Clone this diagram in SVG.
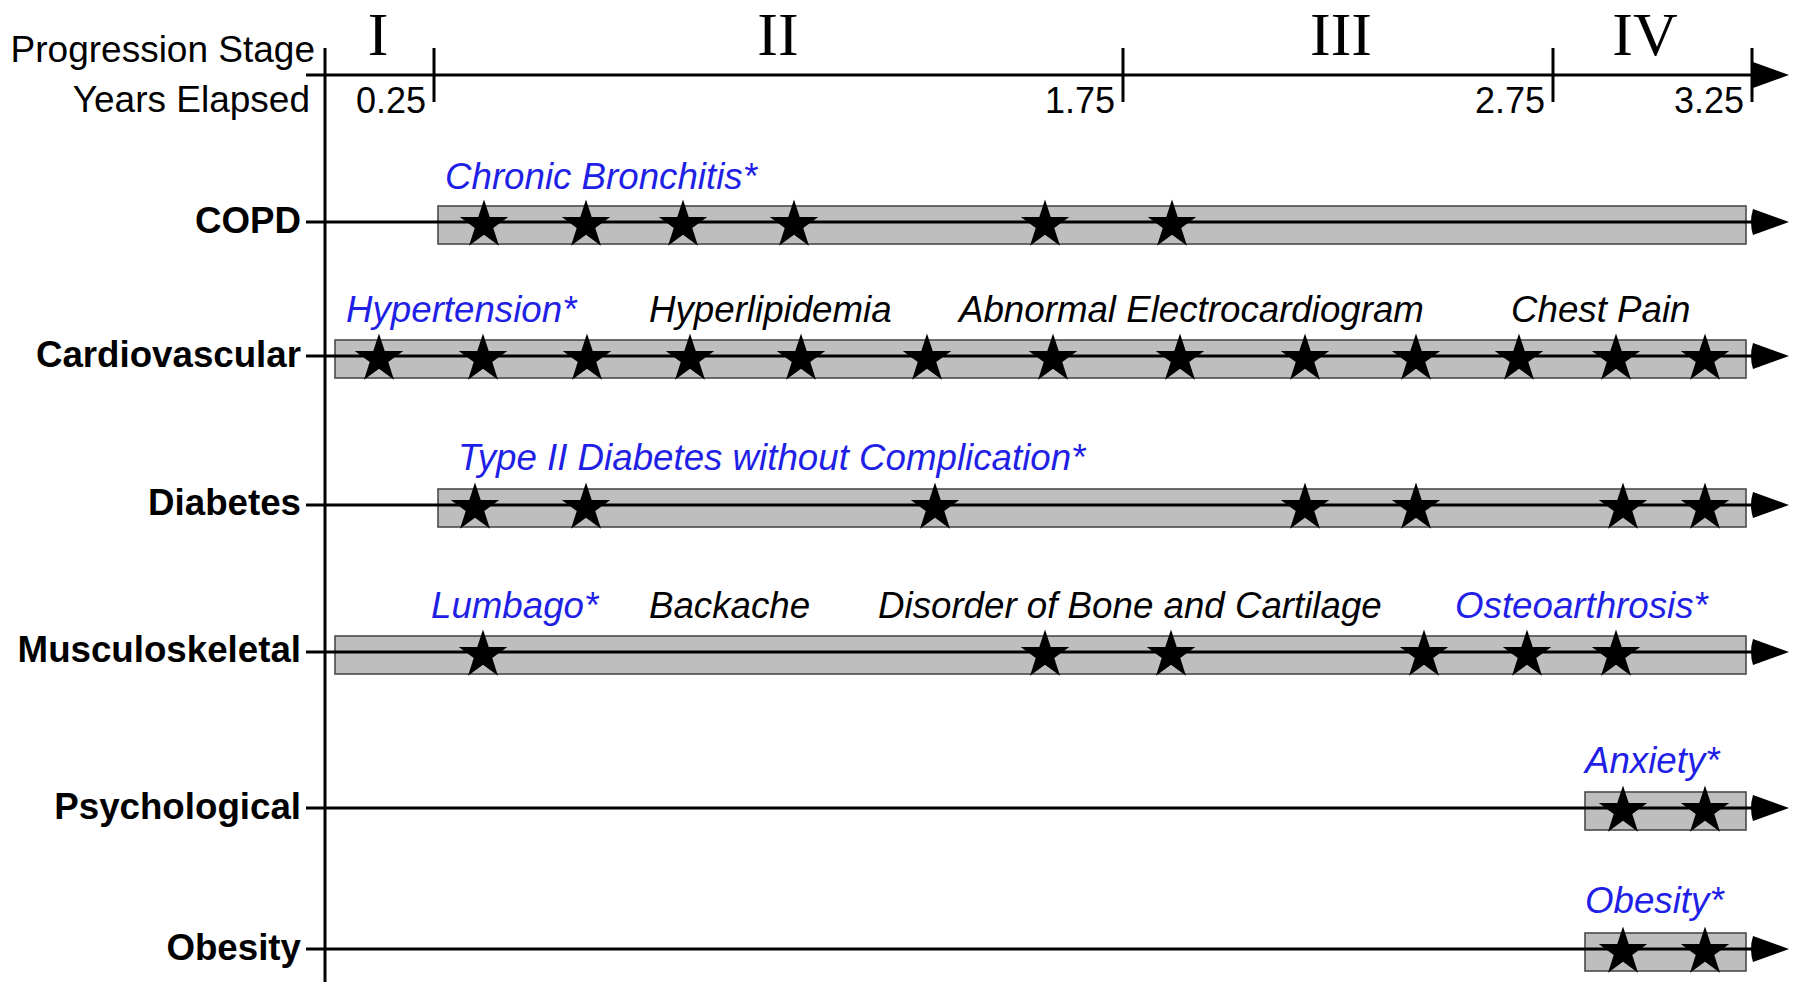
<svg xmlns="http://www.w3.org/2000/svg" xmlns:xlink="http://www.w3.org/1999/xlink" width="1795" height="982" viewBox="0 0 1795 982">
<style>
.sans{font-family:"Liberation Sans",Arial,sans-serif;font-size:37px;fill:#000}
.lab{font-family:"Liberation Sans",Arial,sans-serif;font-size:36.7px;font-weight:bold;fill:#000;text-anchor:end}
.ev{font-family:"Liberation Sans",Arial,sans-serif;font-size:36.7px;font-style:italic;fill:#000}
.blue{fill:#1f1fe6}
.roman{font-family:"Liberation Serif","Times New Roman",serif;font-size:62px;fill:#000;text-anchor:middle}
.yr{font-family:"Liberation Sans",Arial,sans-serif;font-size:36px;fill:#000;text-anchor:end}
.bar{fill:#bebebe;stroke:#4a4a4a;stroke-width:1.6}
.ln{stroke:#000;stroke-width:3;fill:none}
.tick{stroke:#000;stroke-width:3}
</style>
<defs>
<marker id="arrow" viewBox="-5 -13 41 26" refX="0" refY="0" markerWidth="41" markerHeight="26" markerUnits="userSpaceOnUse" orient="auto">
<path d="M0,-13 L36,0 L0,13 Q-4,0 0,-13Z" fill="#000"/>
</marker>
<path id="star" d="M0,-25.5L5.72,-7.88L24.25,-7.88L9.26,3.01L14.99,20.63L0,9.74L-14.99,20.63L-9.26,3.01L-24.25,-7.88L-5.72,-7.88Z" fill="#000"/>
</defs>
<rect width="1795" height="982" fill="#fff"/>

<g id="axis">
<text class="sans" x="315" y="62" text-anchor="end">Progression Stage</text>
<text class="sans" x="310" y="112" text-anchor="end">Years Elapsed</text>
<line class="ln" x1="306" y1="75" x2="1753" y2="75" marker-end="url(#arrow)"/>
<line class="ln" x1="325" y1="48" x2="325" y2="982"/>
<line class="tick" x1="434" y1="48" x2="434" y2="102"/>
<line class="tick" x1="1123" y1="48" x2="1123" y2="102"/>
<line class="tick" x1="1553" y1="48" x2="1553" y2="102"/>
<line class="tick" x1="1752" y1="48" x2="1752" y2="102"/>
<text class="roman" x="378" y="55">I</text>
<text class="roman" x="778" y="55">II</text>
<text class="roman" x="1341" y="55">III</text>
<text class="roman" x="1645" y="55">IV</text>
<text class="yr" x="426" y="113">0.25</text>
<text class="yr" x="1115" y="113">1.75</text>
<text class="yr" x="1545" y="113">2.75</text>
<text class="yr" x="1744" y="113">3.25</text>
</g>

<g id="bars">
<rect class="bar" x="438" y="206" width="1308" height="38"/>
<rect class="bar" x="335" y="340" width="1411" height="38"/>
<rect class="bar" x="438" y="489" width="1308" height="38"/>
<rect class="bar" x="335" y="636" width="1411" height="38"/>
<rect class="bar" x="1585" y="792" width="161" height="38"/>
<rect class="bar" x="1585" y="933" width="161" height="38"/>
</g>

<g id="connectors">
<line class="ln" x1="306" y1="222" x2="1753" y2="222" marker-end="url(#arrow)"/>
<line class="ln" x1="306" y1="356" x2="1753" y2="356" marker-end="url(#arrow)"/>
<line class="ln" x1="306" y1="505" x2="1753" y2="505" marker-end="url(#arrow)"/>
<line class="ln" x1="306" y1="652" x2="1753" y2="652" marker-end="url(#arrow)"/>
<line class="ln" x1="306" y1="808" x2="1753" y2="808" marker-end="url(#arrow)"/>
<line class="ln" x1="306" y1="949" x2="1753" y2="949" marker-end="url(#arrow)"/>
</g>

<g id="copd">
<text class="lab" x="301" y="233">COPD</text>
<text class="ev blue" x="445" y="189">Chronic Bronchitis*</text>
<use xlink:href="#star" x="484" y="225"/>
<use xlink:href="#star" x="586" y="225"/>
<use xlink:href="#star" x="683" y="225"/>
<use xlink:href="#star" x="794" y="225"/>
<use xlink:href="#star" x="1045" y="225"/>
<use xlink:href="#star" x="1172" y="225"/>
</g>

<g id="cardiovascular">
<text class="lab" x="301" y="367">Cardiovascular</text>
<text class="ev blue" x="346" y="322">Hypertension*</text>
<text class="ev" x="649" y="322">Hyperlipidemia</text>
<text class="ev" x="959" y="322">Abnormal Electrocardiogram</text>
<text class="ev" x="1511" y="322">Chest Pain</text>
<use xlink:href="#star" x="379" y="359"/>
<use xlink:href="#star" x="483" y="359"/>
<use xlink:href="#star" x="587" y="359"/>
<use xlink:href="#star" x="690" y="359"/>
<use xlink:href="#star" x="801" y="359"/>
<use xlink:href="#star" x="927" y="359"/>
<use xlink:href="#star" x="1053" y="359"/>
<use xlink:href="#star" x="1180" y="359"/>
<use xlink:href="#star" x="1305" y="359"/>
<use xlink:href="#star" x="1416" y="359"/>
<use xlink:href="#star" x="1519" y="359"/>
<use xlink:href="#star" x="1616" y="359"/>
<use xlink:href="#star" x="1705" y="359"/>
</g>

<g id="diabetes">
<text class="lab" x="301" y="515">Diabetes</text>
<text class="ev blue" x="458" y="470">Type II Diabetes without Complication*</text>
<use xlink:href="#star" x="475" y="508"/>
<use xlink:href="#star" x="586" y="508"/>
<use xlink:href="#star" x="935" y="508"/>
<use xlink:href="#star" x="1305" y="508"/>
<use xlink:href="#star" x="1416" y="508"/>
<use xlink:href="#star" x="1623" y="508"/>
<use xlink:href="#star" x="1705" y="508"/>
</g>

<g id="musculoskeletal">
<text class="lab" x="301" y="662">Musculoskeletal</text>
<text class="ev blue" x="431" y="618">Lumbago*</text>
<text class="ev" x="649" y="618">Backache</text>
<text class="ev" x="878" y="618">Disorder of Bone and Cartilage</text>
<text class="ev blue" x="1455" y="618">Osteoarthrosis*</text>
<use xlink:href="#star" x="483" y="655"/>
<use xlink:href="#star" x="1045" y="655"/>
<use xlink:href="#star" x="1171" y="655"/>
<use xlink:href="#star" x="1424" y="655"/>
<use xlink:href="#star" x="1527" y="655"/>
<use xlink:href="#star" x="1616" y="655"/>
</g>

<g id="psychological">
<text class="lab" x="301" y="819">Psychological</text>
<text class="ev blue" x="1585" y="773">Anxiety*</text>
<use xlink:href="#star" x="1623" y="811"/>
<use xlink:href="#star" x="1705" y="811"/>
</g>

<g id="obesity">
<text class="lab" x="301" y="960">Obesity</text>
<text class="ev blue" x="1585" y="913">Obesity*</text>
<use xlink:href="#star" x="1623" y="952"/>
<use xlink:href="#star" x="1705" y="952"/>
</g>
</svg>
